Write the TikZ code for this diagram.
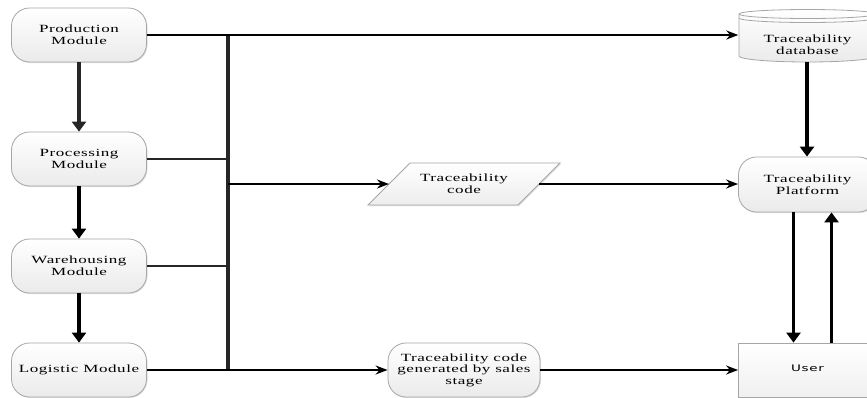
\documentclass[tikz,border=0pt]{standalone}
\usepackage{fontspec}
\setmainfont{Liberation Serif}[FakeStretch=1.55,LetterSpace=5]
\newfontfamily\userfont{DejaVu Sans}[FakeStretch=1.5,LetterSpace=8]
\usetikzlibrary{arrows.meta,shadows}
\begin{document}
\begin{tikzpicture}[x=1pt,y=-1pt,
  font=\fontsize{11}{12}\selectfont,
  modbox/.style={draw=gray!70, line width=0.8pt, rounded corners=18pt, top color=white, bottom color=gray!16,
    align=center, minimum width=135pt, minimum height=54pt, inner sep=0pt,
    drop shadow={opacity=0.25, shadow xshift=1pt, shadow yshift=-1pt}},
  userbox/.style={draw=gray!70, line width=0.8pt, top color=white, bottom color=gray!12,
    minimum width=138pt, minimum height=54pt, inner sep=0pt},
  conn/.style={line width=2.2pt, black},
  gconn/.style={line width=2.2pt, gray!30!black},
  bus/.style={line width=3.5pt, gray!30!black},
  harrow/.style={conn, -{Stealth[length=12pt,width=9pt]}},
  varrow/.style={line width=3.5pt, -{Triangle[length=10pt,width=14pt]}},
]
\clip (0,0) rectangle (867,397);
\fill[white] (0,0) rectangle (867,397);

% left modules
\node[modbox] (prod) at (79,35) {Production\\Module};
\node[modbox] (proc) at (79,159) {Processing\\Module};
\node[modbox] (ware) at (79,266) {Warehousing\\Module};
\node[modbox] (logi) at (79,370) {Logistic Module};

\draw[varrow, gray!30!black] (prod.south) -- (proc.north);
\draw[varrow] (proc.south) -- (ware.north);
\draw[varrow] (ware.south) -- (logi.north);

% bus
\coordinate (b1) at (228,35);
\coordinate (b2) at (228,159);
\coordinate (b3) at (228,184);
\coordinate (b4) at (228,266);
\coordinate (b5) at (228,370);
\draw[bus] (b1) -- (b5);

% database cylinder
\draw[draw=gray!70, line width=0.8pt, top color=white, bottom color=gray!16]
  (739,14) -- (739,56) arc[start angle=180, end angle=360, x radius=68.5pt, y radius=6pt]
  -- (876,14) arc[start angle=0, end angle=180, x radius=68.5pt, y radius=4.5pt] -- cycle;
\draw[gray!70, line width=0.8pt] (739,14) arc[start angle=180, end angle=360, x radius=68.5pt, y radius=4.5pt];
\draw[gray!70, line width=0.8pt] (739,18) arc[start angle=180, end angle=360, x radius=68.5pt, y radius=4.5pt];
\node[align=center, minimum width=138pt, inner sep=0pt] (db) at (807.5,45) {Traceability\\database};

% traceability code parallelogram
\draw[draw=gray!70, line width=0.8pt, top color=white, bottom color=gray!14,
  drop shadow={opacity=0.25, shadow xshift=1pt, shadow yshift=-1pt}]
  (368,205) -- (410,163) -- (560,163) -- (518,205) -- cycle;
\node[align=center] (tc) at (464,184) {Traceability\\code};
\coordinate (tcL) at (389,184);
\coordinate (tcR) at (539,184);

% generated code
\node[modbox, minimum width=152pt, font=\fontsize{11}{11.5}\selectfont] (gen) at (464,370) {Traceability code\\generated by sales\\stage};

% platform and user
\node[modbox, minimum width=138pt, minimum height=55pt] (plat) at (807.5,184.5) {Traceability\\Platform};
\node[userbox, font=\userfont\fontsize{9}{10}\selectfont] (user) at (807.5,370) {\raisebox{4pt}{User}};

% connectors
\draw[harrow] (prod.east) -- (db.west |- prod.east);
\draw[gconn] (proc.east) -- (b2);
\draw[gconn] (ware.east) -- (b4);
\draw[harrow] (b3) -- (tcL);
\draw[harrow] (tcR) -- (plat.west |- tcR);
\draw[harrow] (logi.east) -- (gen.west);
\draw[harrow] (gen.east) -- (user.west);

\draw[varrow] (807,62) -- (plat.north -| 807,0);
\draw[varrow] ([xshift=-14pt]plat.south) -- ([xshift=-14pt]user.north);
\draw[varrow] ([xshift=24pt]user.north) -- ([xshift=24pt]plat.south);
\end{tikzpicture}
\end{document}
